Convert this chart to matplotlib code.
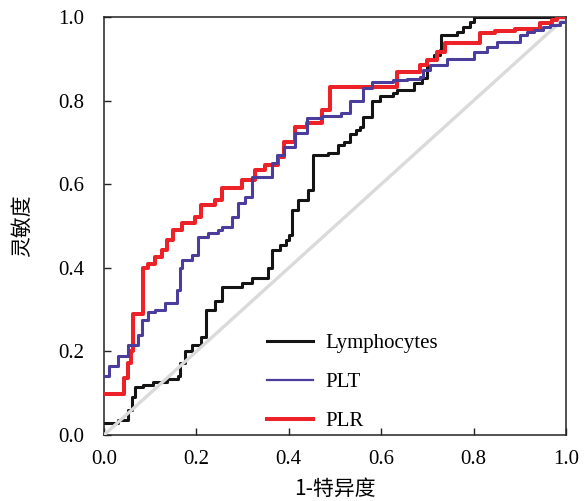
import matplotlib
matplotlib.use("Agg")
import matplotlib.pyplot as plt

# Data
lym_fpr = [0.0, 0.03, 0.052, 0.06, 0.067, 0.085, 0.106, 0.136, 0.16, 0.165, 0.175, 0.19,
           0.211, 0.22, 0.24, 0.255, 0.298, 0.32, 0.355, 0.363, 0.38, 0.395, 0.40, 0.406,
           0.42, 0.442, 0.452, 0.485, 0.507, 0.52, 0.532, 0.545, 0.554, 0.56, 0.58, 0.597,
           0.626, 0.634, 0.67, 0.688, 0.70, 0.715, 0.727, 0.73, 0.764, 0.777, 0.792, 0.80, 1.0]
lym_tpr = [0.028, 0.036, 0.06, 0.092, 0.115, 0.12, 0.127, 0.134, 0.14, 0.172, 0.20, 0.215,
           0.235, 0.30, 0.32, 0.355, 0.363, 0.375, 0.40, 0.443, 0.455, 0.467, 0.478, 0.538,
           0.562, 0.586, 0.67, 0.675, 0.694, 0.70, 0.72, 0.73, 0.737, 0.76, 0.80, 0.81,
           0.818, 0.825, 0.842, 0.854, 0.897, 0.91, 0.92, 0.957, 0.964, 0.976, 0.988, 1.0, 1.0]

plt_fpr = [0.0, 0.01, 0.03, 0.052, 0.074, 0.082, 0.096, 0.11, 0.132, 0.157, 0.165, 0.168,
           0.19, 0.203, 0.225, 0.247, 0.255, 0.276, 0.29, 0.305, 0.32, 0.363, 0.374, 0.39,
           0.413, 0.44, 0.471, 0.514, 0.532, 0.56, 0.58, 0.626, 0.656, 0.684, 0.69, 0.705,
           0.742, 0.80, 0.829, 0.85, 0.90, 0.915, 0.93, 0.95, 0.965, 0.987, 1.0]
plt_tpr = [0.14, 0.165, 0.19, 0.215, 0.24, 0.275, 0.295, 0.30, 0.315, 0.347, 0.40, 0.418,
           0.43, 0.474, 0.483, 0.49, 0.498, 0.522, 0.555, 0.57, 0.617, 0.65, 0.67, 0.69,
           0.722, 0.758, 0.762, 0.77, 0.80, 0.83, 0.845, 0.85, 0.852, 0.857, 0.873, 0.885,
           0.90, 0.917, 0.928, 0.94, 0.957, 0.965, 0.969, 0.975, 0.98, 0.988, 1.0]

plr_fpr = [0.0, 0.043, 0.052, 0.058, 0.063, 0.085, 0.095, 0.11, 0.125, 0.136, 0.15, 0.168,
           0.197, 0.21, 0.24, 0.255, 0.298, 0.327, 0.348, 0.377, 0.39, 0.413, 0.44, 0.471,
           0.489, 0.634, 0.684, 0.70, 0.72, 0.738, 0.814, 0.846, 0.89, 0.944, 0.97, 0.98, 1.0]
plr_tpr = [0.098, 0.136, 0.172, 0.20, 0.29, 0.40, 0.41, 0.426, 0.443, 0.467, 0.49, 0.507,
           0.522, 0.55, 0.562, 0.59, 0.61, 0.634, 0.646, 0.665, 0.70, 0.737, 0.746, 0.777,
           0.833, 0.869, 0.885, 0.897, 0.917, 0.937, 0.962, 0.966, 0.972, 0.986, 0.993, 1.0, 1.0]

ref_x = [0.0, 1.0]
ref_y = [0.0, 1.0]

ticks = [0.0, 0.2, 0.4, 0.6, 0.8, 1.0]
tick_labels = ["0.0", "0.2", "0.4", "0.6", "0.8", "1.0"]

plt.rcParams['font.family'] = ['Liberation Serif', 'Noto Sans CJK SC']

fig = plt.figure(figsize=(5.86, 5.01), dpi=100)
ax = fig.add_axes([104/586, 66/501, 462/586, 418/501])

ax.plot(lym_fpr, lym_tpr, drawstyle='steps-post', color='#141414', lw=2.2,
        label='Lymphocytes', zorder=2)
ax.plot(ref_x, ref_y, color='#dadada', lw=2.4, zorder=3)
ax.plot(plr_fpr, plr_tpr, drawstyle='steps-post', color='#ec2228', lw=2.9,
        label='PLR', zorder=4)
ax.plot(plt_fpr, plt_tpr, drawstyle='steps-post', color='#4a3d9c', lw=2.2,
        label='PLT', zorder=5)

ax.set_xlim(0, 1.0)
ax.set_ylim(0, 1.0)
ax.set_xticks(ticks)
ax.set_xticklabels(tick_labels)
ax.set_yticks(ticks)
ax.set_yticklabels(tick_labels)
ax.tick_params(direction='in', length=5, width=1.0, labelsize=15, color='#222222')
ax.tick_params(axis='x', pad=11)
ax.tick_params(axis='y', pad=14)
for s in ax.spines.values():
    s.set_linewidth(1.1)
    s.set_color('#222222')

ax.set_xlabel('1-特异度', fontsize=15, family=['Noto Sans CJK SC'], labelpad=6)
ax.set_ylabel('灵敏度', fontsize=15, family=['Noto Sans CJK SC'], labelpad=18)

handles, labels = ax.get_legend_handles_labels()
order = [0, 2, 1]
leg = ax.legend([handles[i] for i in order], [labels[i] for i in order],
                loc='lower left', bbox_to_anchor=(0.313, -0.036), frameon=False,
                fontsize=15, handlelength=2.2, handletextpad=0.6, labelspacing=0.93)
leg.get_lines()[1].set_linewidth(1.6)

fig.savefig('out.png', dpi=100)
